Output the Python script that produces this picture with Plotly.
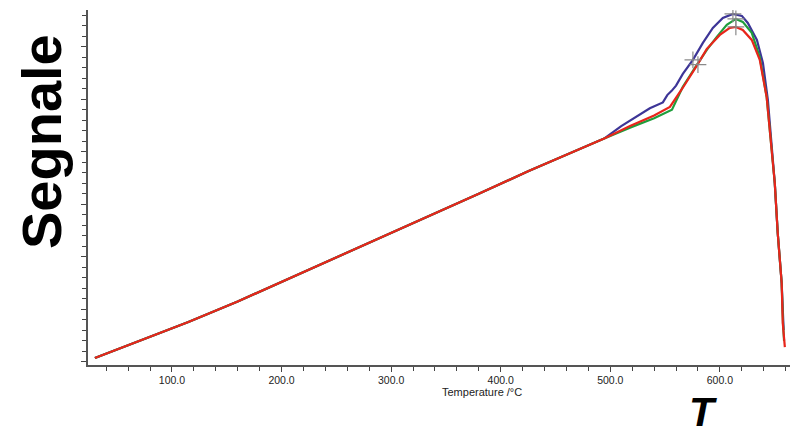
import plotly.graph_objects as go

# Shared baseline (all three runs overlap here)
base_T = [29.7, 70, 115, 160, 205, 250, 300, 340, 380, 425, 470, 495]
base_S = [0.67, 2.3, 4.1, 6.05, 8.15, 10.25, 12.55, 14.4, 16.3, 18.45, 20.5, 21.6]

# Blue run
blue_T = [510, 522.4, 536.1, 548, 552, 556, 560, 566.2, 575.4, 584.5, 593.6, 602.7,
          611.9, 620.1, 625.5, 633.8, 639.3, 643.8, 647.3, 650.1, 652.8, 656.4, 658.2]
blue_S = [22.75, 23.55, 24.45, 25.0, 25.7, 26.1, 26.6, 27.71, 29.05, 30.67, 32.1, 33.05,
          33.43, 33.24, 32.57, 30.95, 28.76, 25.24, 20.48, 17.33, 12.57, 7.81, 3.33]

# Green run
green_T = [518, 540, 556.3, 566.2, 579.0, 588.1, 597.2, 606.3, 614.6, 620.9, 629.1,
           636.4, 642.7, 647.3, 650.1, 652.8, 656.4, 657.6, 658.6]
green_S = [22.6, 23.5, 24.3, 26.5, 28.57, 30.0, 31.24, 32.38, 32.95, 32.67, 31.62,
           29.33, 25.52, 20.48, 17.33, 12.57, 7.81, 4.0, 2.3]

# Red run
red_T = [518, 540, 554.4, 560, 566.2, 579.0, 588.1, 600.0, 609.1, 614.6, 620.9, 629.1,
         636.4, 642.7, 647.3, 650.1, 652.8, 656.4, 657.4, 659.3]
red_S = [22.75, 23.75, 24.57, 25.4, 26.4, 28.5, 30.1, 31.43, 32.1, 32.19, 31.9, 30.95,
         29.05, 25.52, 20.48, 17.33, 12.57, 7.81, 4.0, 1.71]

# Analysis markers (grey crosses)
mark_T = [611.9, 614.6, 614.6, 575.4, 580.0]
mark_S = [33.43, 32.95, 32.19, 29.05, 28.6]

x_ticks = [100, 200, 300, 400, 500, 600]
x_labels = ["100.0", "200.0", "300.0", "400.0", "500.0", "600.0"]

FONT = "Arial, Liberation Sans, Helvetica, sans-serif"

fig = go.Figure()
series = [
    (base_T + blue_T, base_S + blue_S, "#3d3597"),
    (base_T + green_T, base_S + green_S, "#1f9e3c"),
    (base_T + red_T, base_S + red_S, "#e8251b"),
]
for tx, sy, col in series:
    fig.add_trace(go.Scatter(x=tx, y=sy, mode="lines",
                             line=dict(color=col, width=2.2),
                             showlegend=False, hoverinfo="skip"))

fig.add_trace(go.Scatter(x=mark_T, y=mark_S, mode="markers",
                         marker=dict(symbol="cross-thin", size=12,
                                     line=dict(color="#8a8a8a", width=1.2)),
                         showlegend=False, hoverinfo="skip"))

# The page body adds an 8px offset, so the figure is sized 792x428.
fig.update_layout(
    width=792, height=428,
    margin=dict(l=80, r=10, t=2, b=71),
    paper_bgcolor="white", plot_bgcolor="white",
    font=dict(family=FONT, color="#333333"),
    xaxis=dict(
        range=[23.4, 664], showgrid=False, zeroline=False,
        showline=True, linecolor="#555555", linewidth=1.5,
        tickmode="array", tickvals=x_ticks, ticktext=x_labels,
        ticks="outside", ticklen=5, tickcolor="#444444", tickwidth=1,
        tickfont=dict(size=10.5, color="#222222", family=FONT),
        minor=dict(dtick=20, tick0=0, ticks="outside", ticklen=4,
                   tickcolor="#444444", tickwidth=1),
    ),
    yaxis=dict(
        range=[0, 33.8], showgrid=False, zeroline=False,
        showline=True, linecolor="#555555", linewidth=1.5,
        showticklabels=False,
        tick0=0.3, dtick=5, ticks="outside", ticklen=5,
        tickcolor="#444444", tickwidth=1,
        minor=dict(dtick=1, tick0=0.3, ticks="outside", ticklen=4,
                   tickcolor="#444444", tickwidth=1),
    ),
    annotations=[
        dict(text="Temperature /°C", xref="paper", yref="paper",
             x=0.561, y=-0.076, showarrow=False,
             font=dict(size=11, color="#222222", family=FONT),
             xanchor="center", yanchor="middle"),
        dict(text="<b>Segnale</b>", xref="paper", yref="paper",
             x=-0.066, y=0.63, showarrow=False, textangle=-90,
             font=dict(size=56, color="black", family=FONT),
             xanchor="center", yanchor="middle"),
        dict(text="<b><i>T</i></b>", xref="paper", yref="paper",
             x=0.876, y=-0.131, showarrow=False,
             font=dict(size=41, color="black", family=FONT),
             xanchor="center", yanchor="middle"),
    ],
)

fig.write_html("out.html")
